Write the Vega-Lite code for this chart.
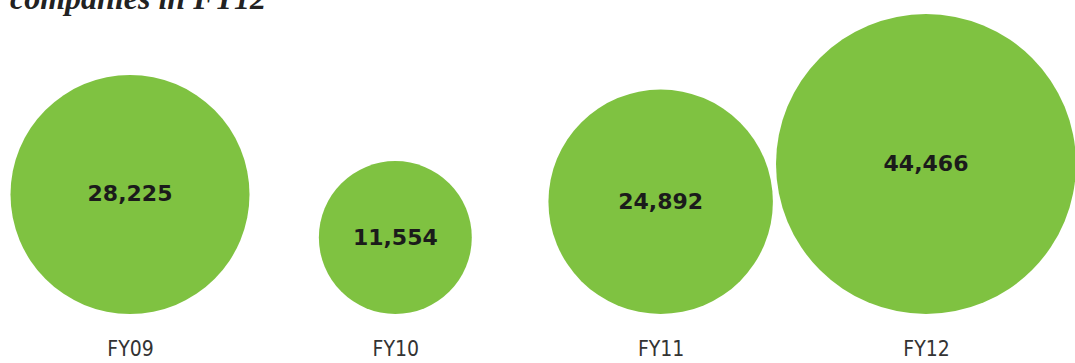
{
  "$schema": "https://vega.github.io/schema/vega-lite/v6.json",
  "width": 1075,
  "height": 363,
  "autosize": {"type": "none"},
  "padding": 0,
  "background": "white",
  "title": {
    "text": "companies in FY12",
    "orient": "top",
    "anchor": "start",
    "frame": "group",
    "offset": 0,
    "baseline": "alphabetic",
    "dy": 41,
    "dx": 10,
    "font": "Liberation Serif",
    "fontStyle": "italic",
    "fontWeight": "bold",
    "fontSize": 32,
    "color": "#222222"
  },
  "data": {
    "values": [
      {"year": "FY09", "value": 28225},
      {"year": "FY10", "value": 11554},
      {"year": "FY11", "value": 24892},
      {"year": "FY12", "value": 44466}
    ]
  },
  "encoding": {
    "x": {
      "field": "year",
      "type": "nominal",
      "sort": null,
      "scale": {"type": "point", "range": [130, 926], "padding": 0},
      "axis": {
        "title": null,
        "orient": "bottom",
        "offset": -49,
        "domain": false,
        "ticks": false,
        "grid": false,
        "labelPadding": 24,
        "labelAngle": 0,
        "labelFont": "'DejaVu Sans Condensed', 'Liberation Sans Narrow', Roboto, sans-serif",
        "labelFontSize": 21,
        "labelColor": "#333333"
      }
    },
    "y": {
      "field": "value",
      "type": "quantitative",
      "scale": {"type": "sqrt", "domain": [0, 44466], "range": [314, 164]},
      "axis": null
    }
  },
  "layer": [
    {
      "mark": {"type": "circle", "opacity": 1, "color": "#7fc241"},
      "encoding": {
        "size": {
          "field": "value",
          "type": "quantitative",
          "scale": {"domain": [0, 44466], "range": [0, 90000]},
          "legend": null
        }
      }
    },
    {
      "mark": {"type": "text", "font": "DejaVu Sans", "fontWeight": "bold", "fontSize": 22, "color": "#1b1b1b"},
      "encoding": {
        "text": {"field": "value", "type": "quantitative", "format": ","}
      }
    }
  ],
  "config": {"view": {"stroke": null}}
}
